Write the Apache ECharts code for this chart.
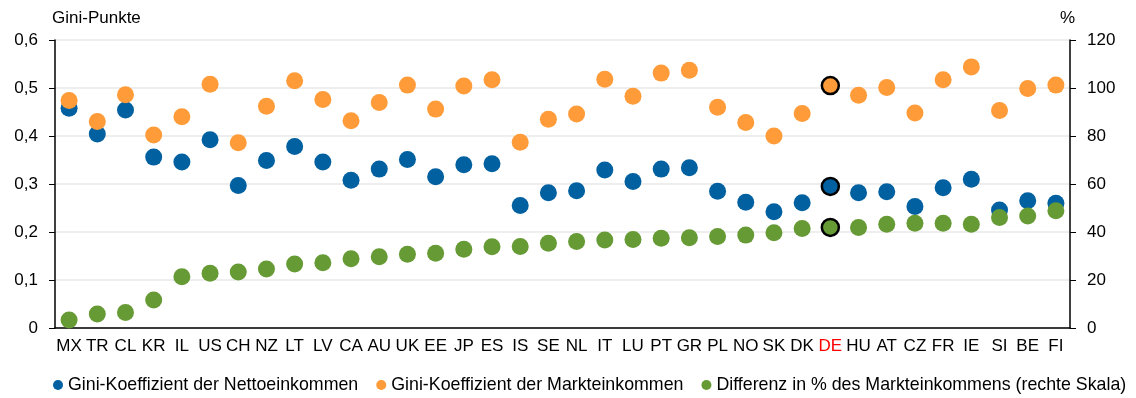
<!DOCTYPE html>
<html lang="de">
<head>
    <meta charset="UTF-8">
    <title>Gini</title>
    <script src="https://cdn.jsdelivr.net/npm/echarts@6/dist/echarts.min.js"></script>
    <style>
        body { margin: 0; background: #fff; }
    </style>
</head>
<body>
    <div id="main" style="width: 1136px;height:398px;"></div>
    <script type="text/javascript">
        // Countries, sorted by the redistribution share
        const countries = ['MX', 'TR', 'CL', 'KR', 'IL', 'US', 'CH', 'NZ', 'LT', 'LV', 'CA', 'AU',
            'UK', 'EE', 'JP', 'ES', 'IS', 'SE', 'NL', 'IT', 'LU', 'PT', 'GR', 'PL', 'NO', 'SK',
            'DK', 'DE', 'HU', 'AT', 'CZ', 'FR', 'IE', 'SI', 'BE', 'FI'];

        // Gini of net incomes (left axis)
        const giniNet = [0.458, 0.404, 0.454, 0.356, 0.346, 0.392, 0.297, 0.349, 0.378, 0.346, 0.308, 0.331,
            0.351, 0.315, 0.340, 0.342, 0.255, 0.282, 0.286, 0.329, 0.305, 0.331, 0.334, 0.285, 0.262, 0.242,
            0.261, 0.295, 0.282, 0.284, 0.253, 0.292, 0.310, 0.246, 0.265, 0.260];

        // Gini of market incomes (left axis)
        const giniMarket = [0.474, 0.430, 0.486, 0.402, 0.440, 0.508, 0.386, 0.462, 0.515, 0.476, 0.432, 0.470,
            0.506, 0.456, 0.504, 0.517, 0.387, 0.435, 0.446, 0.518, 0.483, 0.531, 0.537, 0.460, 0.428, 0.400,
            0.447, 0.505, 0.485, 0.501, 0.448, 0.517, 0.544, 0.453, 0.499, 0.506];

        // Difference in % of market Gini (right axis)
        const diffPct = [3.3, 5.8, 6.5, 11.7, 21.4, 22.8, 23.3, 24.6, 26.7, 27.2, 28.9, 29.7,
            30.7, 31.1, 32.8, 33.9, 34.0, 35.3, 36.0, 36.7, 36.9, 37.4, 37.6, 38.1, 38.7, 39.7,
            41.5, 41.9, 41.9, 43.2, 43.6, 43.6, 43.2, 46.0, 46.7, 48.9];

        const highlight = 'DE';
        const font = 'Liberation Sans';

        let myChart = echarts.init(document.getElementById('main'));

        // mark the highlighted country with a black ring
        function points(values) {
            return values.map((v, i) => countries[i] === highlight
                ? { value: v, itemStyle: { borderColor: '#000', borderWidth: 2.5 } }
                : v);
        }

        const comma = v => v === 0 ? '0' : v.toFixed(1).replace('.', ',');

        let options = {
            animation: false,
            textStyle: { fontFamily: font },
            grid: { left: 55, right: 66, top: 40, bottom: 70 },
            legend: {
                left: 53,
                bottom: -1,
                width: 1100,
                padding: [5, 0, 5, 0],
                icon: 'circle',
                itemWidth: 10,
                itemHeight: 11,
                itemGap: 18,
                textStyle: { fontFamily: font, fontSize: 17.8, color: '#000' },
                data: ['Gini-Koeffizient der Nettoeinkommen', 'Gini-Koeffizient der Markteinkommen',
                    'Differenz in % des Markteinkommens (rechte Skala)']
            },
            xAxis: {
                type: 'category',
                boundaryGap: true,
                data: countries.map(c => c === highlight ? { value: c, textStyle: { color: '#ff0000' } } : c),
                axisLine: { lineStyle: { color: '#000', width: 1.5 } },
                axisTick: { length: 6, lineStyle: { color: '#000' } },
                axisLabel: { color: '#000', fontSize: 17, margin: 10, interval: 0 }
            },
            yAxis: [{
                type: 'value',
                min: 0, max: 0.6, interval: 0.1,
                name: 'Gini-Punkte',
                nameLocation: 'end',
                nameGap: 13,
                nameTextStyle: { color: '#000', fontSize: 17, align: 'left', padding: [0, 0, 0, -3] },
                axisLine: { show: true, lineStyle: { color: '#000', width: 1.5 } },
                axisTick: { show: true, length: 6, lineStyle: { color: '#000' } },
                axisLabel: { color: '#000', fontSize: 17, margin: 17, formatter: comma },
                splitLine: { lineStyle: { color: '#e8e8e8', width: 1.5 } }
            }, {
                type: 'value',
                min: 0, max: 120, interval: 20,
                name: '%',
                nameLocation: 'end',
                nameGap: 13,
                nameTextStyle: { color: '#000', fontSize: 17, align: 'right', padding: [0, -5, 0, 0] },
                axisLine: { show: true, lineStyle: { color: '#000', width: 1.5 } },
                axisTick: { show: true, length: 6, lineStyle: { color: '#000' } },
                axisLabel: { color: '#000', fontSize: 17, margin: 17 },
                splitLine: { show: false }
            }],
            series: [{
                name: 'Gini-Koeffizient der Nettoeinkommen',
                type: 'scatter',
                symbolSize: 17,
                itemStyle: { color: '#0060a0', opacity: 1 },
                data: points(giniNet)
            }, {
                name: 'Gini-Koeffizient der Markteinkommen',
                type: 'scatter',
                symbolSize: 17,
                itemStyle: { color: '#ff9b38', opacity: 1 },
                data: points(giniMarket)
            }, {
                name: 'Differenz in % des Markteinkommens (rechte Skala)',
                type: 'scatter',
                yAxisIndex: 1,
                symbolSize: 17,
                itemStyle: { color: '#669a34', opacity: 1 },
                data: points(diffPct)
            }]
        };

        myChart.setOption(options);
    </script>
</body>
</html>
